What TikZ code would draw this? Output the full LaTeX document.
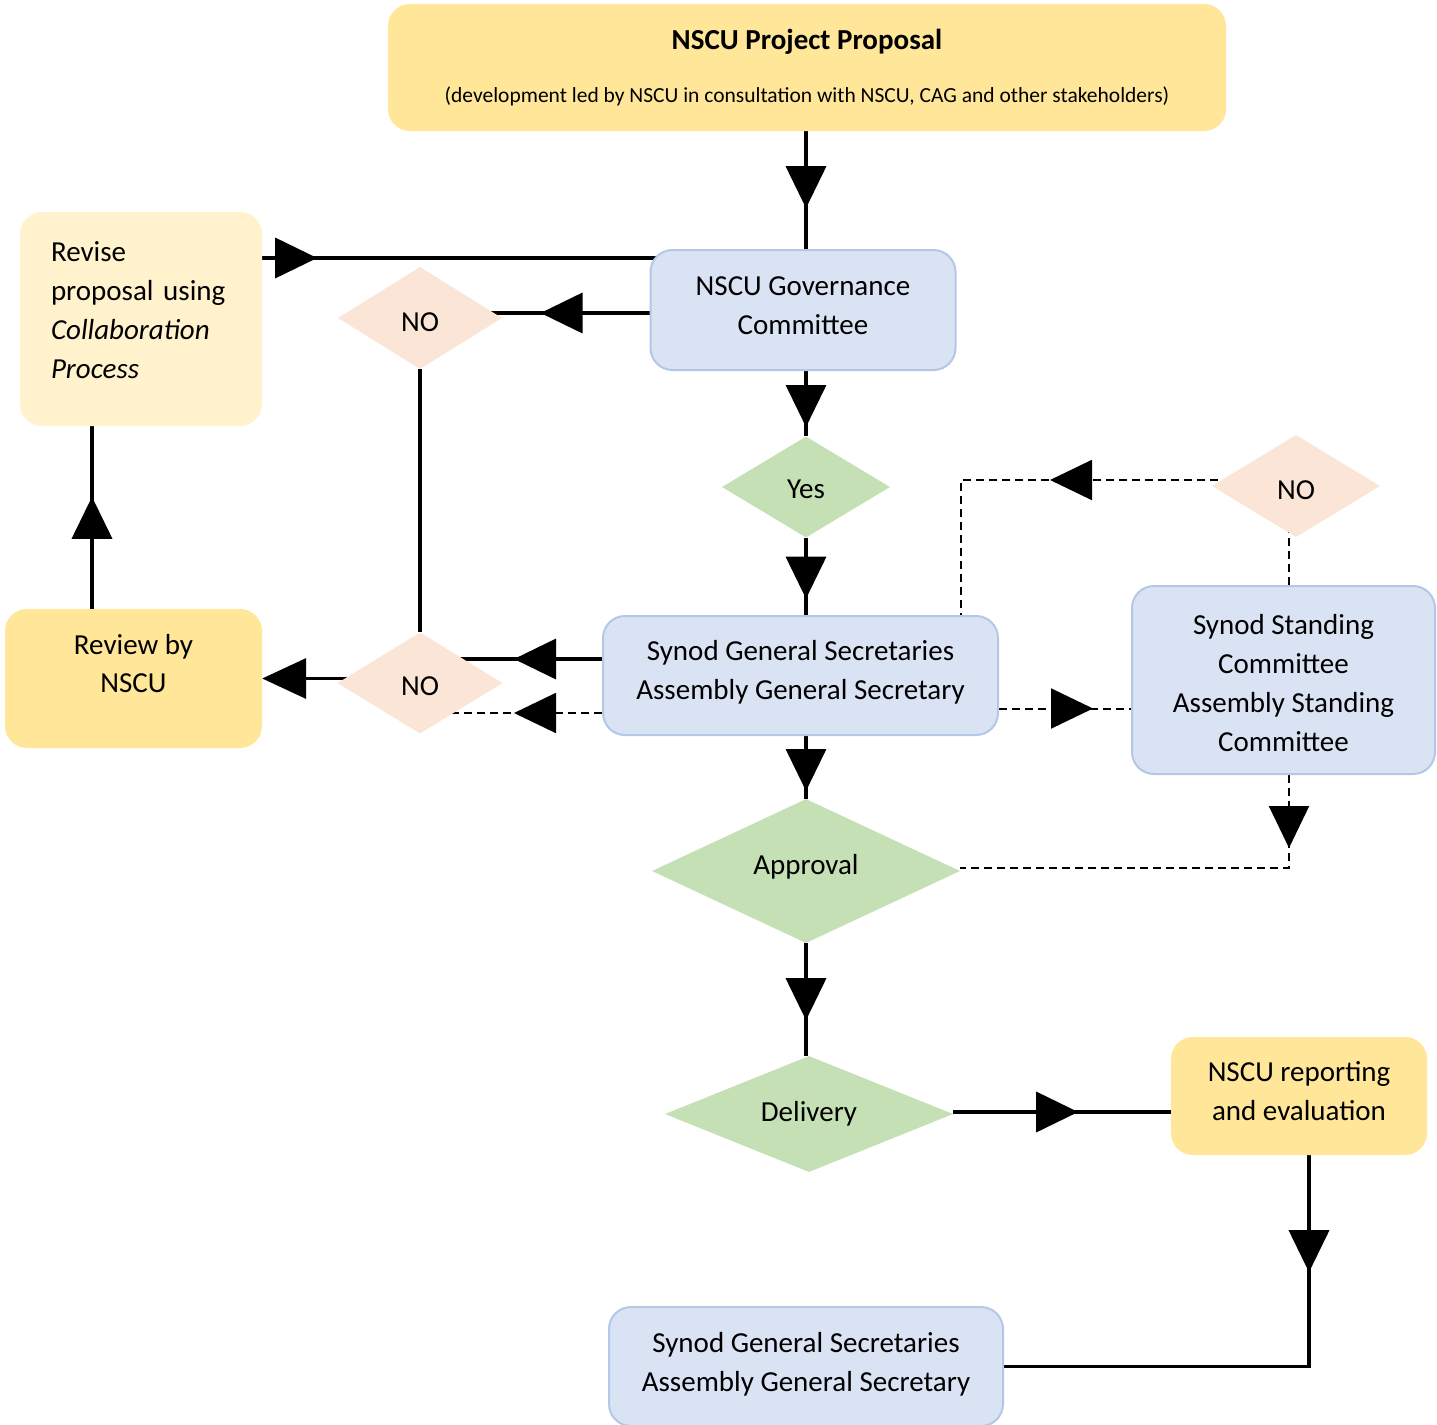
\documentclass[tikz,border=0pt]{standalone}
\usepackage{fontspec}
\setmainfont{Carlito}
\usetikzlibrary{shapes.geometric,arrows.meta,decorations.markings,backgrounds,calc}
\pgfdeclarelayer{paper}
\pgfsetlayers{paper,background,main}
\definecolor{ylw}{HTML}{FFE699}
\definecolor{lylw}{HTML}{FFF2CC}
\definecolor{lblue}{HTML}{DAE3F3}
\definecolor{bblue}{HTML}{B4C7E7}
\definecolor{peach}{HTML}{FBE5D6}
\definecolor{lgreen}{HTML}{C5E0B4}
% text block raised by #2 keeping its natural extent
\newcommand{\tx}[3][c]{\raisebox{#2}[\height][\depth]{\begin{tabular}{@{}#1@{}}#3\end{tabular}}}
\begin{document}
\begin{tikzpicture}[x=1pt,y=-1pt,
  every node/.style={font=\fontsize{29}{39}\selectfont, inner sep=0pt, text=black},
  box/.style={rectangle, rounded corners=22pt, align=center},
  bluebox/.style={box, fill=lblue, draw=bblue, line width=2pt},
  ybox/.style={box, fill=ylw},
  dia/.style={diamond, aspect=1.6},
  nodia/.style={dia, fill=peach},
  gdia/.style={dia, fill=lgreen},
  conn/.style={line width=3.5pt, black},
  dconn/.style={line width=2pt, black, dash pattern=on 8pt off 5pt},
  marr/.style={postaction={decorate}, decoration={markings, mark=at position #1 with {\arrow{Triangle[length=42pt,width=40pt]}}}},
  tipend/.style={-{Triangle[length=44pt,width=40pt]}},
]
\begin{pgfonlayer}{paper}
\fill[white] (0,0) rectangle (1437,1424);
\end{pgfonlayer}
\useasboundingbox (0,0) rectangle (1437,1424);

\node[ybox, minimum width=838pt, minimum height=127pt] (prop) at (807,67.5)
  {\textbf{NSCU Project Proposal}\\[14pt]{\fontsize{21.5}{24}\selectfont (development led by NSCU in consultation with NSCU, CAG and other stakeholders)}};
\node[bluebox, minimum width=305pt, minimum height=120pt] (gov) at (803,310) {\tx{2.8pt}{NSCU Governance\\Committee}};
\node[box, fill=lylw, minimum width=242pt, minimum height=214pt, text width=180pt, align=left] (rev) at (141,319)
  {\tx[l]{6.8pt}{Revise\\proposal using\\\textit{Collaboration}\\\textit{Process}}};
\node[nodia, minimum width=164pt, minimum height=102pt] (no1) at (420,318) {\tx{-6pt}{NO}};
\node[gdia, minimum width=168pt, minimum height=101pt] (yes) at (806,487) {\tx{-4pt}{Yes}};
\node[nodia, minimum width=168pt, minimum height=102pt] (nor) at (1296,486) {\tx{-5.5pt}{NO}};
\node[bluebox, minimum width=395pt, minimum height=119pt] (syn) at (800.5,675.5) {\tx{3.3pt}{Synod General Secretaries\\Assembly General Secretary}};
\node[bluebox, minimum width=303pt, minimum height=188pt] (stand) at (1283.5,680) {\tx{-5.2pt}{Synod Standing\\Committee\\Assembly Standing\\Committee}};
\node[nodia, minimum width=165pt, minimum height=101pt] (no2) at (420,683) {\tx{-5pt}{NO}};
\node[ybox, minimum width=257pt, minimum height=139pt, font=\fontsize{29}{37.5}\selectfont] (rvw) at (133.5,678.5) {\tx{12.6pt}{Review by\\NSCU}};
\node[gdia, minimum width=308pt, minimum height=144pt] (appr) at (806,871) {\tx{4pt}{Approval}};
\node[gdia, minimum width=288pt, minimum height=116pt] (deliv) at (809,1114) {\tx{0pt}{Delivery}};
\node[ybox, minimum width=256pt, minimum height=118pt] (rep) at (1299,1096) {\tx{2.8pt}{NSCU reporting\\and evaluation}};
\node[bluebox, minimum width=394pt, minimum height=119pt] (bot) at (806,1366.5) {\tx{2.3pt}{Synod General Secretaries\\Assembly General Secretary}};

\begin{pgfonlayer}{background}
\draw[conn, marr=77pt] (yes.north |- prop.south) -- (yes.north |- gov.north);
\coordinate (b1) at ([yshift=-9pt,xshift=6pt]gov.north west);
\draw[conn, marr=55pt] (b1 -| rev.east) -- (b1);
\coordinate (c1) at ([yshift=-3pt]gov.west);
\draw[conn, marr=109pt] (c1) -- (c1 -| no1.center);
\draw[conn] (no1.south) -- (no2.north);
\draw[conn, marr=56pt] (yes.north |- gov.south) -- (yes.north);
\draw[conn, marr=61pt] (yes.south) -- (yes.south |- syn.north);
\coordinate (g1) at ([yshift=16.5pt]syn.west);
\draw[conn, marr=88pt] (g1) -- (g1 -| no2.center);
\coordinate (h1) at ([yshift=-37.5pt]syn.west);
\draw[dconn, marr=88pt] (h1) -- (h1 -| no2.center);
\draw[conn, tipend] (rvw.east -| no2.center) -- (rvw.east);
\coordinate (j1) at ([xshift=-41.5pt]rvw.north);
\draw[conn, marr=112pt] (j1) -- (j1 |- rev.south);
\coordinate (k1) at ([yshift=-33pt]syn.east);
\draw[dconn, marr=94pt] (k1) -- (k1 -| stand.west);
\coordinate (l1) at ([yshift=6pt]nor.center);
\coordinate (l2) at ([xshift=160.5pt]syn.north);
\draw[dconn, marr=246pt] (l1) -- (l1 -| l2) -- (l2);
\coordinate (m1) at ([xshift=5.5pt]stand.north);
\draw[dconn] (m1) -- (m1 |- nor.center);
\coordinate (n1) at ([xshift=5.5pt]stand.south);
\coordinate (n2) at ([yshift=3pt]appr.east);
\draw[dconn, marr=73pt] (n1) -- (n1 |- n2) -- (n2);
\draw[conn, marr=55pt] (appr.north |- syn.south) -- (appr.north);
\draw[conn, marr=77pt] (appr.south) -- (appr.south |- deliv.north);
\coordinate (q1) at ([yshift=2pt]deliv.east);
\draw[conn, marr=125pt] (q1) -- (q1 -| rep.west);
\coordinate (r1) at ([xshift=10pt]rep.south);
\draw[conn, marr=117pt] (r1) -- (r1 |- bot.east) -- (bot.east);
\end{pgfonlayer}
\end{tikzpicture}
\end{document}
